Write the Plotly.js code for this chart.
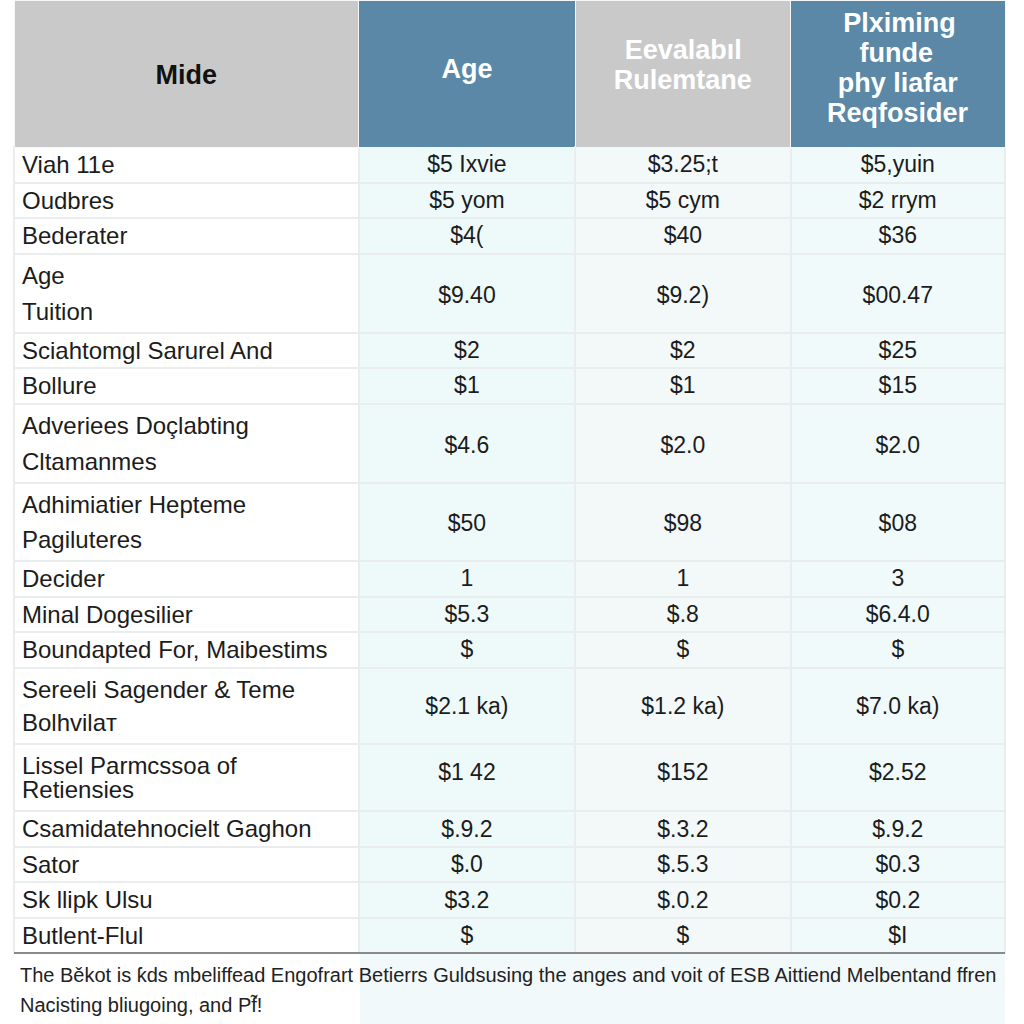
<!DOCTYPE html>
<html>
<head>
<meta charset="utf-8">
<script src="https://cdn.plot.ly/plotly-3.0.1.min.js"></script>
<style>html,body{margin:0;padding:0;background:#fff;}#chart{width:1024px;height:1024px;}</style>
</head>
<body>
<div id="chart"></div>
<script>
// ---- data ----
const headers = ["Mide", "Age", "Eevalabıl<br>Rulemtane", "Plximing<br>funde<br>phy liafar<br>Reqfosider"];
const rowLabels = [
  "Viah 11e", "Oudbres", "Bederater", "Age<br>Tuition",
  "Sciahtomgl Sarurel And", "Bollure", "Adveriees Doçlabting<br>Cltamanmes",
  "Adhimiatier Hepteme<br>Pagiluteres", "Decider", "Minal Dogesilier",
  "Boundapted For, Maibestims", "Sereeli Sagender &amp; Teme<br>Bolhvilaт",
  "Lissel Parmcssoa of<br>Retiensies", "Csamidatehnocielt Gaghon", "Sator",
  "Sk llipk Ulsu", "Butlent-Flul"
];
const ageValues = ["$5 Ixvie", "$5 yom", "$4(", "$9.40", "$2", "$1", "$4.6", "$50", "1", "$5.3", "$", "$2.1 ka)", "$1 42", "$.9.2", "$.0", "$3.2", "$"];
const evalValues = ["$3.25;t", "$5 cym", "$40", "$9.2)", "$2", "$1", "$2.0", "$98", "1", "$.8", "$", "$1.2 ka)", "$152", "$.3.2", "$.5.3", "$.0.2", "$"];
const fundValues = ["$5,yuin", "$2 rrym", "$36", "$00.47", "$25", "$15", "$2.0", "$08", "3", "$6.4.0", "$", "$7.0 ka)", "$2.52", "$.9.2", "$0.3", "$0.2", "$I"];
const footnoteLines = [
  "The Běkot is ƙds mbeliffead Engofrart Betierrs Guldsusing the anges and voit of ESB Aittiend Melbentand ffren",
  "Nacisting bliugoing, and Pf̃!"
];

// ---- styling helpers ----
const FONT = "Liberation Sans, Arial, sans-serif";
const LABEL_PX = 24, VALUE_PX = 23, HEAD_PX = 27;
const NB = "\u00a0", TS = "\u2009";
// line pitch (cell font size) for two-line rows, by row label
const pitchFor = {"Age<br>Tuition": 27.7, "Adveriees Doçlabting<br>Cltamanmes": 27.7,
  "Adhimiatier Hepteme<br>Pagiluteres": 27.3, "Sereeli Sagender &amp; Teme<br>Bolhvilaт": 25.5,
  "Lissel Parmcssoa of<br>Retiensies": 19};

const span = (t, px) => "<span style=\"font-size:" + px + "px\">" + t + "</span>";
const isTall = rowLabels.map(l => l.includes("<br>"));
const labelCells = rowLabels.map((l, i) => isTall[i] ? l.split("<br>").map(s => span(s, LABEL_PX)).join("<br>") : l);
const labelSizes = rowLabels.map((l, i) => isTall[i] ? pitchFor[l] : LABEL_PX);
// values of two-line rows sit on a second line, centred between the label lines
const valSizes = rowLabels.map((l, i) => isTall[i] ? (1.4 * pitchFor[l] - 0.4) / 2.05 : VALUE_PX);
const valCells = arr => arr.map((v, i) => isTall[i] ? NB + "<br>" + span(v, VALUE_PX) : v);

const headCells = [
  NB + "<br>" + span("<b>" + headers[0] + "</b>", HEAD_PX),
  NB + "<br>" + span("<b>" + headers[1] + "</b>", HEAD_PX),
  NB + "<br>" + headers[2].split("<br>").map((s, k) => span("<b>" + TS.repeat([2, 0][k]) + s + "</b>", HEAD_PX)).join("<br>"),
  headers[3].split("<br>").map((s, k) => span("<b>" + TS.repeat([3, 6, 2, 0][k]) + s + "</b>", HEAD_PX)).join("<br>")
];
const headSizes = [34.3, 31.9, 23, 23];

const trace = {
  type: "table",
  domain: {x: [14/1024, 1005/1024], y: [0.02, 1]},
  columnwidth: [344, 216, 215, 214],
  header: {
    values: headCells,
    align: "center",
    height: 147,
    fill: {color: ["#c9c9c9", "#5b88a6", "#c9c9c9", "#5b88a6"]},
    line: {color: "#f4f6f7", width: 1},
    font: {family: FONT, size: headSizes, color: ["#111111", "#ffffff", "#ffffff", "#ffffff"]}
  },
  cells: {
    values: [labelCells, valCells(ageValues), valCells(evalValues), valCells(fundValues)],
    align: ["left", "center", "center", "center"],
    height: 35.5,
    fill: {color: ["#ffffff", "#eef9fa", "#f3f8f9", "#f0fafb"]},
    line: {color: "#eaeded", width: 2},
    font: {family: FONT, size: [labelSizes, valSizes, valSizes, valSizes], color: "#1c1c1c"}
  }
};

const layout = {
  width: 1024, height: 1024,
  margin: {l: 0, r: 0, t: 0, b: 0},
  paper_bgcolor: "#ffffff",
  shapes: [
    {type: "rect", xref: "paper", yref: "paper", x0: 360/1024, x1: 1005/1024, y0: 0, y1: 71/1024,
     fillcolor: "#f1f9fa", line: {width: 0}, layer: "below"},
    {type: "line", xref: "paper", yref: "paper", x0: 14/1024, x1: 1005/1024, y0: 71/1024, y1: 71/1024,
     line: {color: "#8a8a8a", width: 2}}
  ],
  annotations: [{
    text: footnoteLines.map(s => span(s, 20)).join("<br>"),
    xref: "paper", yref: "paper", x: 18/1024, y: 1 - 990/1024, xanchor: "left", yanchor: "middle",
    align: "left", showarrow: false,
    font: {family: FONT, size: 23, color: "#222222"}
  }]
};

Plotly.newPlot("chart", [trace], layout, {displayModeBar: false});
</script>
</body>
</html>
